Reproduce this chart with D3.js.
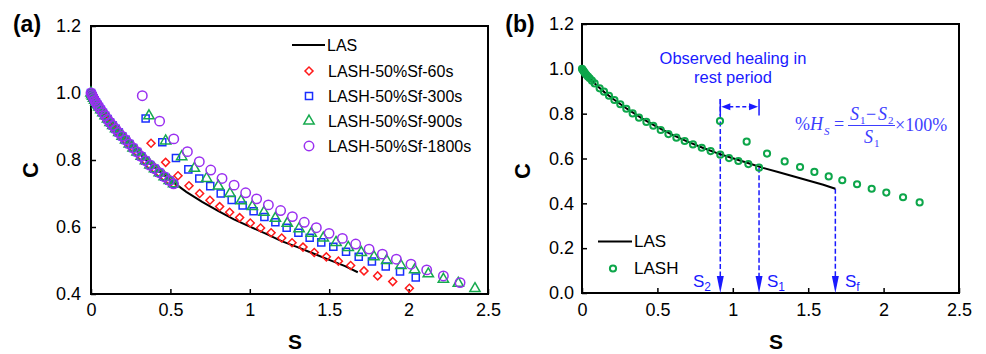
<!DOCTYPE html>
<html>
<head>
<meta charset="utf-8">
<script src="https://cdn.jsdelivr.net/npm/d3@7"></script>
<style>
  body { margin: 0; background: #fff; }
  svg { display: block; font-family: "Liberation Sans", Arial, sans-serif; }
</style>
</head>
<body>
<div id="chart"></div>
<script>
// tick values
var sTicks = [0, 0.5, 1, 1.5, 2, 2.5];
var cTicksA = [0.4, 0.6, 0.8, 1.0, 1.2];
var cTicksB = [0, 0.2, 0.4, 0.6, 0.8, 1.0, 1.2];

// LAS curve (continuous loading, no rest)
var lasS = [0, 0.02, 0.05, 0.1, 0.15, 0.2, 0.3, 0.4, 0.5, 0.6, 0.7, 0.8, 0.9, 1.0, 1.1, 1.2, 1.3, 1.4, 1.5, 1.6, 1.68];
var lasC = [1.0, 0.98, 0.958, 0.925, 0.895, 0.869, 0.821, 0.778, 0.740, 0.705, 0.675, 0.648, 0.623, 0.601, 0.580, 0.558, 0.540, 0.521, 0.502, 0.483, 0.465];

// (a) points before the rest period, same for the four LASH tests
var preS = [0, 0.005, 0.01, 0.016, 0.023, 0.031, 0.04, 0.05, 0.062, 0.075, 0.089, 0.104, 0.12, 0.137, 0.155, 0.175, 0.196, 0.218, 0.241, 0.265, 0.29, 0.316, 0.343, 0.371, 0.4, 0.43, 0.461, 0.493, 0.52];
var preC = [1.0, 0.995, 0.99, 0.984, 0.978, 0.972, 0.965, 0.958, 0.95, 0.941, 0.932, 0.922, 0.912, 0.903, 0.893, 0.882, 0.871, 0.86, 0.848, 0.836, 0.824, 0.811, 0.798, 0.785, 0.774, 0.762, 0.75, 0.739, 0.729];

// (a) points after the rest period
var r60S = [0.378, 0.47, 0.548, 0.617, 0.684, 0.749, 0.81, 0.873, 0.936, 1.003, 1.068, 1.134, 1.201, 1.266, 1.335, 1.406, 1.482, 1.558, 1.635, 1.719, 1.805, 1.9, 2.005];
var r60C = [0.85, 0.793, 0.753, 0.723, 0.7, 0.68, 0.661, 0.644, 0.628, 0.612, 0.597, 0.583, 0.567, 0.553, 0.54, 0.524, 0.511, 0.498, 0.485, 0.469, 0.454, 0.437, 0.417];
var r300S = [0.344, 0.449, 0.535, 0.613, 0.682, 0.751, 0.817, 0.886, 0.955, 1.024, 1.092, 1.161, 1.232, 1.306, 1.377, 1.45, 1.526, 1.606, 1.686, 1.769, 1.856, 1.946, 2.045];
var r300C = [0.924, 0.853, 0.806, 0.772, 0.745, 0.722, 0.7, 0.681, 0.664, 0.647, 0.63, 0.614, 0.598, 0.583, 0.568, 0.554, 0.541, 0.526, 0.511, 0.497, 0.482, 0.467, 0.449];
var r900S = [0.365, 0.47, 0.571, 0.651, 0.728, 0.802, 0.875, 0.945, 1.016, 1.089, 1.161, 1.236, 1.31, 1.387, 1.463, 1.543, 1.62, 1.702, 1.782, 1.862, 1.952, 2.038, 2.124, 2.219, 2.313, 2.418];
var r900C = [0.932, 0.857, 0.81, 0.775, 0.745, 0.722, 0.7, 0.678, 0.661, 0.644, 0.626, 0.611, 0.595, 0.581, 0.567, 0.554, 0.539, 0.524, 0.511, 0.5, 0.485, 0.472, 0.46, 0.444, 0.432, 0.416];
var r1800S = [0.323, 0.432, 0.521, 0.607, 0.682, 0.754, 0.825, 0.901, 0.974, 1.043, 1.117, 1.194, 1.268, 1.343, 1.419, 1.499, 1.583, 1.667, 1.751, 1.835, 1.923, 2.015, 2.114, 2.219, 2.324];
var r1800C = [0.992, 0.916, 0.863, 0.825, 0.795, 0.77, 0.745, 0.725, 0.702, 0.684, 0.666, 0.649, 0.631, 0.614, 0.598, 0.581, 0.566, 0.549, 0.534, 0.519, 0.504, 0.489, 0.472, 0.454, 0.434];

var names = ["LASH-50%Sf-60s", "LASH-50%Sf-300s", "LASH-50%Sf-900s", "LASH-50%Sf-1800s"];

// (b) LASH test
var lashS = [0, 0.004, 0.009, 0.015, 0.022, 0.03, 0.04, 0.051, 0.066, 0.084, 0.117, 0.146, 0.179, 0.215, 0.254, 0.294, 0.336, 0.378, 0.427, 0.473, 0.522, 0.573, 0.626, 0.681, 0.736, 0.794, 0.853, 0.917, 0.975, 1.037, 1.103, 1.174,
             0.915, 1.092, 1.227, 1.344, 1.446, 1.541, 1.636, 1.726, 1.824, 1.921, 2.018, 2.129, 2.239];
var lashC = [1.0, 0.996, 0.991, 0.985, 0.979, 0.972, 0.965, 0.958, 0.947, 0.935, 0.913, 0.898, 0.88, 0.861, 0.842, 0.822, 0.801, 0.782, 0.763, 0.746, 0.727, 0.709, 0.693, 0.678, 0.663, 0.648, 0.633, 0.617, 0.602, 0.589, 0.575, 0.559,
             0.767, 0.675, 0.622, 0.587, 0.562, 0.54, 0.52, 0.503, 0.485, 0.465, 0.448, 0.427, 0.404];
var s2 = 0.917, s1 = 1.174, sFail = 1.68;

var blue = "#1a1aff";
var green = "#0da64a";

var svg = d3.select("#chart").append("svg")
    .attr("width", 986)
    .attr("height", 354);

function pairs(S, C) {
    return S.map(function(s, i) { return [s, C[i]]; });
}

function drawAxes(x, y, yTicks, xPad, yPad) {
    var g = svg.append("g");
    g.append("g")
        .attr("transform", "translate(0," + y.range()[0] + ")")
        .call(d3.axisBottom(x).tickValues(sTicks).tickSize(-5).tickPadding(xPad)
            .tickFormat(function(d) { return String(d); }));
    g.append("g")
        .attr("transform", "translate(" + x.range()[0] + ",0)")
        .call(d3.axisLeft(y).tickValues(yTicks).tickSize(-5).tickPadding(yPad)
            .tickFormat(d3.format(".1f")));
    g.selectAll(".domain").remove();
    g.selectAll(".tick line").attr("stroke", "#000").attr("stroke-width", 1.5);
    g.selectAll(".tick text").attr("fill", "#000")
        .style("font-size", "18px").style("font-family", "'Liberation Sans', Arial, sans-serif");
    // box
    svg.append("rect")
        .attr("x", x.range()[0]).attr("y", y.range()[1])
        .attr("width", x.range()[1] - x.range()[0])
        .attr("height", y.range()[0] - y.range()[1])
        .attr("fill", "none").attr("stroke", "#000").attr("stroke-width", 2);
}

function drawLine(x, y, S, C) {
    svg.append("path")
        .datum(pairs(S, C))
        .attr("fill", "none").attr("stroke", "#000").attr("stroke-width", 2)
        .attr("d", d3.line().x(function(d) { return x(d[0]); }).y(function(d) { return y(d[1]); }));
}

function drawMarks(x, y, S, C, type, size, color, rot, sw) {
    svg.append("g").selectAll("path")
        .data(pairs(S, C))
        .enter().append("path")
        .attr("d", d3.symbol().type(type).size(size))
        .attr("transform", function(d) { return "translate(" + x(d[0]) + "," + y(d[1]) + ") rotate(" + rot + ")"; })
        .attr("fill", "none").attr("stroke", color).attr("stroke-width", sw);
}

function axisTitles(cx, cy, sx, sy, tag, tx, ty) {
    svg.append("text").attr("transform", "translate(" + cx + "," + cy + ") rotate(-90)")
        .attr("text-anchor", "middle").attr("dy", "0.35em")
        .style("font-size", "22px").style("font-weight", "bold").text("C");
    svg.append("text").attr("x", sx).attr("y", sy).attr("text-anchor", "middle")
        .style("font-size", "21px").style("font-weight", "bold").text("S");
    svg.append("text").attr("x", tx).attr("y", ty).attr("text-anchor", "middle")
        .style("font-size", "23px").style("font-weight", "bold").text(tag);
}

// ---------------- panel (a) ----------------
var xA = d3.scaleLinear().domain([0, 2.5]).range([91, 488]);
var yA = d3.scaleLinear().domain([0.4, 1.2]).range([294, 26]);

drawAxes(xA, yA, cTicksA, 9, 10);
drawLine(xA, yA, lasS, lasC);

var markA = [
    { S: r60S, C: r60C, type: d3.symbolSquare, size: 32, color: "#ff1a1a", rot: 45 },
    { S: r300S, C: r300C, type: d3.symbolSquare, size: 50, color: "#1a2eff", rot: 0 },
    { S: r900S, C: r900C, type: d3.symbolTriangle, size: 46, color: "#16aa4e", rot: 0 },
    { S: r1800S, C: r1800C, type: d3.symbolCircle, size: 70, color: "#9a2ff0", rot: 0 }
];
markA.forEach(function(m) {
    drawMarks(xA, yA, preS.concat(m.S), preC.concat(m.C), m.type, m.size, m.color, m.rot, 1.5);
});

// legend (a)
var legA = svg.append("g");
legA.append("line").attr("x1", 292).attr("x2", 325).attr("y1", 45).attr("y2", 45)
    .attr("stroke", "#000").attr("stroke-width", 2);
legA.append("text").attr("x", 327).attr("y", 45).attr("dy", "0.35em")
    .style("font-size", "16px").text("LAS");
markA.forEach(function(m, i) {
    var ly = 71 + i * 25;
    legA.append("path").attr("d", d3.symbol().type(m.type).size(m.size))
        .attr("transform", "translate(309," + ly + ") rotate(" + m.rot + ")")
        .attr("fill", "none").attr("stroke", m.color).attr("stroke-width", 1.5);
    legA.append("text").attr("x", 328).attr("y", ly).attr("dy", "0.35em")
        .style("font-size", "16px").text(names[i]);
});

axisTitles(30, 170, 295, 349, "(a)", 27, 32);

// ---------------- panel (b) ----------------
var xB = d3.scaleLinear().domain([0, 2.5]).range([582, 959]);
var yB = d3.scaleLinear().domain([0, 1.2]).range([293, 24]);

drawAxes(xB, yB, cTicksB, 10.5, 8);

// healing annotation: dashed guides with arrows down to the S axis
var ann = svg.append("g");
function guide(s, cTop) {
    var px = xB(s), tip = yB(0);
    ann.append("line").attr("x1", px).attr("x2", px).attr("y1", yB(cTop)).attr("y2", tip - 12)
        .attr("stroke", blue).attr("stroke-width", 1.5).attr("stroke-dasharray", "5,2.5");
    ann.append("path").attr("d", "M" + (px - 3.5) + "," + (tip - 17) + "L" + (px + 3.5) + "," + (tip - 17) + "L" + px + "," + tip + "Z")
        .attr("fill", blue);
}
guide(s2, 0.865);
guide(s1, 0.559);
guide(sFail, 0.465);

// bracket over the rest period
[s2, s1].forEach(function(s) {
    ann.append("line").attr("x1", xB(s)).attr("x2", xB(s)).attr("y1", yB(0.865)).attr("y2", yB(0.792))
        .attr("stroke", blue).attr("stroke-width", 1.5);
});
var ya = yB(0.831), xl = xB(s2) + 1, xr = xB(s1) - 1;
ann.append("line").attr("x1", xl + 8).attr("x2", xr - 8).attr("y1", ya).attr("y2", ya)
    .attr("stroke", blue).attr("stroke-width", 1.5).attr("stroke-dasharray", "4,2.5");
ann.append("path").attr("d", "M" + xl + "," + ya + "L" + (xl + 9) + "," + (ya - 3.5) + "L" + (xl + 9) + "," + (ya + 3.5) + "Z").attr("fill", blue);
ann.append("path").attr("d", "M" + xr + "," + ya + "L" + (xr - 9) + "," + (ya - 3.5) + "L" + (xr - 9) + "," + (ya + 3.5) + "Z").attr("fill", blue);

ann.append("text").attr("x", 733).attr("y", 64).attr("text-anchor", "middle")
    .style("font-size", "16.5px").attr("fill", blue).text("Observed healing in");
ann.append("text").attr("x", 733).attr("y", 83).attr("text-anchor", "middle")
    .style("font-size", "16.5px").attr("fill", blue).text("rest period");

function sLabel(x0, sub) {
    var t = ann.append("text").attr("x", x0).attr("y", 287).attr("fill", blue).style("font-size", "17px");
    t.append("tspan").text("S");
    t.append("tspan").attr("dy", 4).style("font-size", "12px").text(sub);
}
sLabel(693, "2");
sLabel(767, "1");
sLabel(845, "f");

// formula
var fc = "#3d3dff";
var fm = ann.append("g").attr("fill", fc).style("font-family", "'Liberation Serif', 'Times New Roman', serif");
function ft(x0, y0, txt, size, italic) {
    fm.append("text").attr("x", x0).attr("y", y0).style("font-size", size + "px")
        .style("font-style", italic ? "italic" : "normal").text(txt);
}
ft(795, 130, "%", 18, false);
ft(810, 130, "H", 18, true);
ft(824, 135, "S", 11, true);
ft(834, 130, "=", 18, false);
ft(850, 120, "S", 18, true);
ft(860, 124, "1", 11, false);
ft(866, 120, "\u2212", 18, false);
ft(878, 120, "S", 18, true);
ft(888, 124, "2", 11, false);
fm.append("line").attr("x1", 848).attr("x2", 895).attr("y1", 125.5).attr("y2", 125.5)
    .attr("stroke", fc).attr("stroke-width", 1);
ft(864, 143, "S", 18, true);
ft(874, 147, "1", 11, false);
ft(895, 131, "\u00d7100%", 18, false);

drawLine(xB, yB, lasS, lasC);
drawMarks(xB, yB, lashS, lashC, d3.symbolCircle, 30, green, 0, 2);

// legend (b)
var legB = svg.append("g");
legB.append("line").attr("x1", 598).attr("x2", 632).attr("y1", 241.5).attr("y2", 241.5)
    .attr("stroke", "#000").attr("stroke-width", 2);
legB.append("text").attr("x", 634).attr("y", 241.5).attr("dy", "0.35em")
    .style("font-size", "17px").text("LAS");
legB.append("path").attr("d", d3.symbol().type(d3.symbolCircle).size(30))
    .attr("transform", "translate(613,268.5)")
    .attr("fill", "none").attr("stroke", green).attr("stroke-width", 2);
legB.append("text").attr("x", 634).attr("y", 268.5).attr("dy", "0.35em")
    .style("font-size", "17px").text("LASH");

axisTitles(522, 171, 776, 349, "(b)", 520, 32);
</script>
</body>
</html>
